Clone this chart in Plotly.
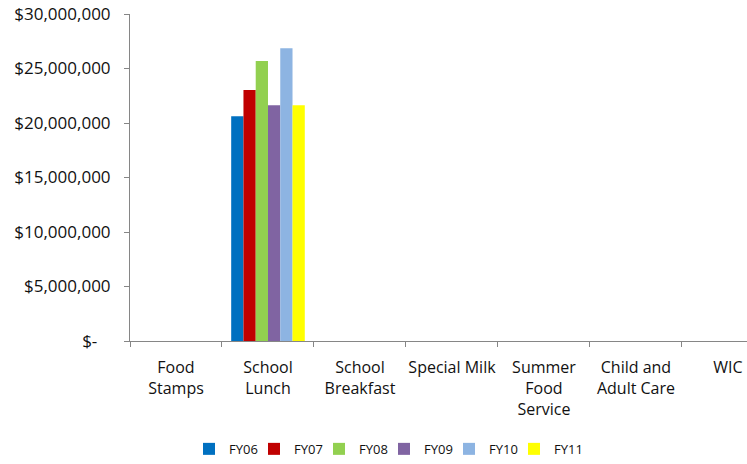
import plotly.graph_objects as go

# data
programs = [
    'Food<br>Stamps',
    'School<br>Lunch',
    'School<br>Breakfast',
    'Special Milk',
    'Summer<br>Food<br>Service',
    'Child and<br>Adult Care',
    'WIC',
]
years = ['FY06', 'FY07', 'FY08', 'FY09', 'FY10', 'FY11']
# only School Lunch has values
fy06 = [None, 20610000, None, None, None, None, None]
fy07 = [None, 23030000, None, None, None, None, None]
fy08 = [None, 25690000, None, None, None, None, None]
fy09 = [None, 21620000, None, None, None, None, None]
fy10 = [None, 26850000, None, None, None, None, None]
fy11 = [None, 21620000, None, None, None, None, None]
series = [fy06, fy07, fy08, fy09, fy10, fy11]

tick_vals = [0, 5e6, 10e6, 15e6, 20e6, 25e6, 30e6]
tick_text = ['$-\u00a0\u00a0\u00a0', '$5,000,000', '$10,000,000', '$15,000,000',
             '$20,000,000', '$25,000,000', '$30,000,000']

colors = ['#0070C0', '#C00000', '#92D050', '#8064A2', '#8DB4E2', '#FFFF00']

fig = go.Figure()
for name, vals, c in zip(years, series, colors):
    fig.add_trace(go.Bar(x=programs, y=vals, name=name,
                         marker_color=c, marker_line_width=0))

# empty legend slot so the last label isn't clipped by the legend box
fig.add_trace(go.Scatter(x=[None], y=[None], mode='markers', name=' ',
                         marker=dict(color='rgba(0,0,0,0)', size=1),
                         hoverinfo='skip'))

axis_color = '#868686'
fig.update_yaxes(range=[0, 30e6], tickvals=tick_vals, ticktext=tick_text,
                 showgrid=False, zeroline=False, showline=True,
                 linecolor=axis_color, linewidth=1,
                 ticks='outside', ticklen=5, tickcolor=axis_color,
                 ticklabelstandoff=10, ticklabeloverflow='allow',
                 tickfont=dict(size=17), automargin=False)
fig.update_xaxes(range=[-0.5, 6.207], showgrid=False, showline=True,
                 linecolor=axis_color, linewidth=1,
                 ticks='outside', ticklen=5, tickcolor=axis_color,
                 tickson='boundaries', tickangle=0, ticklabelstandoff=12,
                 ticklabeloverflow='allow', automargin=False)

fig.update_layout(
    width=747, height=464,
    barmode='group', bargap=0.2, bargroupgap=0,
    plot_bgcolor='white', paper_bgcolor='white',
    font=dict(family='Open Sans, sans-serif', size=16, color='#111'),
    margin=dict(l=130, r=0, t=14, b=123),
    legend=dict(orientation='h', x=0.0956, xanchor='left', y=-0.33,
                yanchor='middle', font=dict(size=13), entrywidth=20,
                tracegroupgap=0),
)

# drop the default body margin so the figure sits at the window's corner
fig.write_html('out.html', config={'displayModeBar': False},
               post_script="document.body.style.margin='0';")
